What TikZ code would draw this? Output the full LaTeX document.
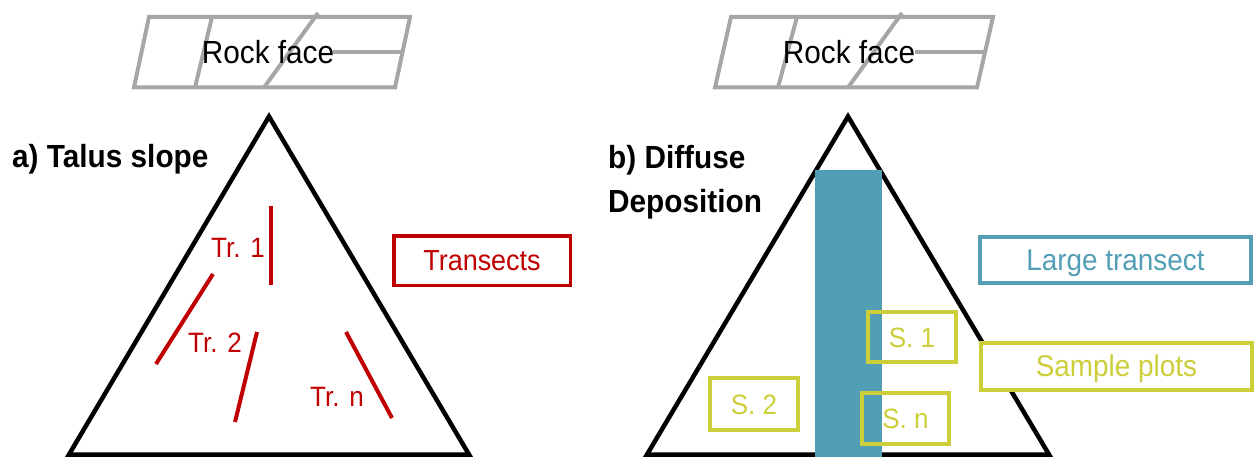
\documentclass[tikz,border=0pt]{standalone}
\usepackage{fontspec}
\setmainfont[FakeStretch=0.93]{Liberation Sans}
\definecolor{trred}{RGB}{192,0,0}
\definecolor{tealb}{RGB}{82,158,181}
\definecolor{ylw}{RGB}{204,206,58}
\definecolor{rockgray}{RGB}{166,166,166}
\begin{document}
\begin{tikzpicture}[x=1pt,y=-1pt,
  rock/.style={draw=rockgray, line width=4pt, line join=miter},
  slope/.style={draw=black, line width=4.5pt, line join=miter},
  lbl/.style={inner sep=0pt, text height=22.5pt, text depth=0pt, font=\fontsize{32}{38}\selectfont},
  smalllbl/.style={inner sep=0pt, text height=20pt, text depth=0pt, font=\fontsize{28}{34}\selectfont},
  ttl/.style={inner sep=0pt, font=\fontsize{32}{44}\selectfont\bfseries, align=left},
  trline/.style={draw=trred, line width=4pt},
  legbox/.style={draw, line width=3.5pt, fill=white, inner sep=0pt, text height=20pt, text depth=0pt},
  plotbox/.style={draw=ylw, line width=4pt, inner sep=0pt, text=ylw, text height=20pt, text depth=0pt, font=\fontsize{28}{34}\selectfont}
]
\useasboundingbox (0,0) rectangle (1255,457);

% ---------- Rock face a ----------
\coordinate (ra1) at (149,17); \coordinate (ra2) at (410,17);
\coordinate (ra3) at (395,87.5); \coordinate (ra4) at (134,87.5);
\draw[rock] (ra1)--(ra2)--(ra3)--(ra4)--cycle;
\coordinate (ra5) at (212,17); \coordinate (ra6) at (195,87.5);
\coordinate (ra7) at (318,13); \coordinate (ra8) at (264,87.5);
\coordinate (ra9) at (333,52); \coordinate (ra10) at (402.5,52);
\draw[rock] (ra5)--(ra6);
\draw[rock] (ra7)--(ra8);
\draw[rock] (ra9)--(ra10);
\node[lbl] (rockA) at (268,52) {Rock face};

% ---------- Rock face b ----------
\coordinate (rb1) at (731,17); \coordinate (rb2) at (993,17);
\coordinate (rb3) at (977,87.5); \coordinate (rb4) at (715,87.5);
\draw[rock] (rb1)--(rb2)--(rb3)--(rb4)--cycle;
\coordinate (rb5) at (797,17); \coordinate (rb6) at (778,87.5);
\coordinate (rb7) at (902,13); \coordinate (rb8) at (848,87.5);
\coordinate (rb9) at (915,52); \coordinate (rb10) at (985,52);
\draw[rock] (rb5)--(rb6);
\draw[rock] (rb7)--(rb8);
\draw[rock] (rb9)--(rb10);
\node[lbl] (rockB) at (849,52) {Rock face};

% ---------- Triangle a ----------
\coordinate (ta1) at (269,116.5); \coordinate (ta2) at (469,454.5); \coordinate (ta3) at (69,454.5);
\draw[slope] (ta1)--(ta2)--(ta3)--cycle;
\node[ttl, anchor=base west] (titleA) at (12,168) {a) Talus slope};

% transects
\coordinate (l1a) at (270.7,206); \coordinate (l1b) at (270.7,285);
\coordinate (l2a) at (213,274); \coordinate (l2b) at (156,364);
\coordinate (l3a) at (257,332); \coordinate (l3b) at (235,422);
\coordinate (l4a) at (346,332); \coordinate (l4b) at (392,418);
\draw[trline] (l1a)--(l1b);
\draw[trline] (l2a)--(l2b);
\draw[trline] (l3a)--(l3b);
\draw[trline] (l4a)--(l4b);
\node[smalllbl, text=trred] (tr1) at (238,247) {Tr. 1};
\node[smalllbl, text=trred] (tr2) at (215,342) {Tr. 2};
\node[smalllbl, text=trred] (trn) at (337,396) {Tr. n};

\node[legbox, draw=trred, text=trred, minimum width=176.5pt, minimum height=49.5pt,
      font=\fontsize{29}{34}\selectfont] (transects) at (482,260.5) {Transects};

% ---------- Triangle b ----------
\coordinate (tb1) at (848,116.5); \coordinate (tb2) at (1049,454.5); \coordinate (tb3) at (647,454.5);
\draw[slope] (tb1)--(tb2)--(tb3)--cycle;
\node[ttl, anchor=north west] (titleB) at (608,145) {b) Diffuse\\Deposition};

\fill[tealb] (815,170) rectangle (882,458);

\node[plotbox, minimum width=88pt, minimum height=50pt] (s1) at (912,337) {S. 1};
\node[plotbox, minimum width=87pt, minimum height=51pt] (sn) at (905.5,418.5) {S. n};
\node[plotbox, minimum width=88pt, minimum height=52pt] (s2) at (754,404) {S. 2};

\node[legbox, draw=tealb, text=tealb, minimum width=271pt, minimum height=46pt,
      font=\fontsize{30}{36}\selectfont] (large) at (1115.5,260) {Large transect};
\node[legbox, draw=ylw, text=ylw, minimum width=271pt, minimum height=47pt,
      font=\fontsize{30}{36}\selectfont] (sample) at (1116.5,366.5) {Sample plots};
\end{tikzpicture}
\end{document}
